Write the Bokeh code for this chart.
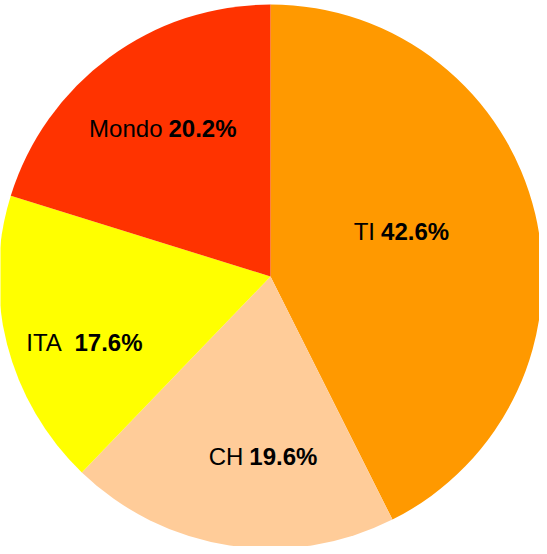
import numpy as np
from bokeh.plotting import figure
from bokeh.models import Range1d, ColumnDataSource
from bokeh.core.properties import value
from bokeh.embed import file_html
from bokeh.resources import INLINE

# data
categories = ["TI", "CH", "ITA", "Mondo"]
shares = [42.6, 19.6, 17.6, 20.2]
value_labels = ["42.6%", "19.6%", "17.6%", "20.2%"]
name_labels = ["TI", "CH", "ITA ", "Mondo"]
colors = ["#FF9900", "#FFCC99", "#FFFF00", "#FF3300"]

# layout (style/position only)
label_r = [0.428, 0.668, 0.771, 0.667]
label_nudge_deg = [9.2, 1.0, 3.95, -1.0]

cx, cy, R = 278.0, -284.0, 272.0

frac = np.array(shares) / np.sum(shares)
ends = np.cumsum(frac)
starts = ends - frac
start_angle = np.pi / 2 - starts * 2 * np.pi
end_angle = np.pi / 2 - ends * 2 * np.pi
mid = (start_angle + end_angle) / 2 + np.radians(label_nudge_deg)
lx = cx + np.array(label_r) * R * np.cos(mid)
ly = cy + np.array(label_r) * R * np.sin(mid)

src = ColumnDataSource(dict(
    x=[cx] * len(categories), y=[cy] * len(categories),
    start=start_angle, end=end_angle, color=colors,
    lx=lx, ly=ly, name=name_labels, val=value_labels,
))

p = figure(width=539, height=546, x_range=Range1d(8, 547), y_range=Range1d(-554, -8),
           output_backend="svg", toolbar_location=None, min_border=0,
           x_axis_location=None, y_axis_location=None)
p.outline_line_color = None
p.grid.visible = False
p.background_fill_color = "white"
p.border_fill_color = "white"

p.wedge(x="x", y="y", radius=R, start_angle="start", end_angle="end",
        direction="clock", fill_color="color", line_color=None, source=src)

p.text(x="lx", y="ly", text="name", source=src, text_align="right",
       text_baseline="middle", text_font=value("Liberation Sans"),
       text_font_size="24px", text_color="black", x_offset=-3)
p.text(x="lx", y="ly", text="val", source=src, text_align="left",
       text_baseline="middle", text_font=value("Liberation Sans"),
       text_font_size="24px", text_font_style="bold", text_color="black", x_offset=3)

open("out.html", "w").write(file_html(p, INLINE))
